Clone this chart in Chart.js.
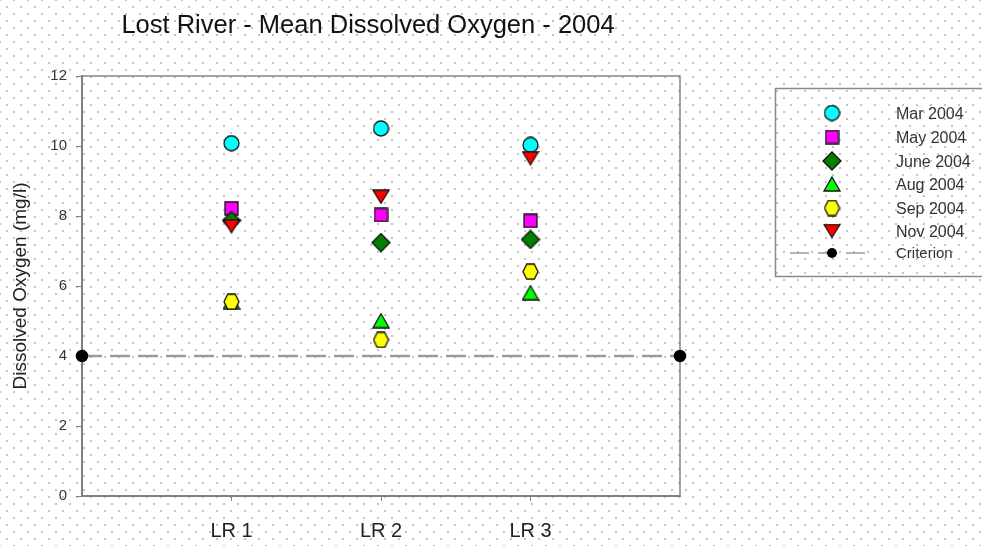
<!DOCTYPE html>
<html>
<head>
<meta charset="utf-8">
<script src="https://cdn.jsdelivr.net/npm/chart.js@4/dist/chart.umd.min.js"></script>
<style>
html, body { margin: 0; padding: 0; background: #fff; }
body {
    background-image: radial-gradient(circle, #c2c2c2 0.8px, transparent 1.4px),
                      radial-gradient(circle, #c2c2c2 0.8px, transparent 1.4px);
    background-size: 14px 14px;
    background-position: 0 0, 7px 7px;
}
#wrap { width: 982px; height: 546px; }
</style>
</head>
<body>
<div id="wrap"><canvas id="doChart" width="982" height="546"></canvas></div>
<script>
// chart values
var sites = ['LR 1', 'LR 2', 'LR 3'];
var sitePos = [1, 2, 3];
var months = ['Mar 2004', 'May 2004', 'June 2004', 'Aug 2004', 'Sep 2004', 'Nov 2004'];
var mar2004 = [10.08, 10.50, 10.03];
var may2004 = [8.22, 8.03, 7.86];
var jun2004 = [7.87, 7.24, 7.33];
var aug2004 = [5.55, 5.01, 5.81];
var sep2004 = [5.55, 4.46, 6.41];
var nov2004 = [7.71, 8.55, 9.65];
var criterion = 4;
var yTicks = [0, 2, 4, 6, 8, 10, 12];

// symbols drawn on small canvases so chart and legend use the same shapes
function makeSymbol(kind, fill, w, h) {
    var c = document.createElement('canvas');
    c.width = w;
    c.height = h;
    var g = c.getContext('2d');
    var cx = w / 2, cy = h / 2;
    g.beginPath();
    if (kind == 'circle') {
        g.arc(cx, cy, w / 2 - 1, 0, Math.PI * 2);
    } else if (kind == 'square') {
        g.rect(1, 1, w - 2, h - 2);
    } else if (kind == 'diamond') {
        g.moveTo(cx, 1); g.lineTo(w - 1, cy); g.lineTo(cx, h - 1); g.lineTo(1, cy);
        g.closePath();
    } else if (kind == 'up') {
        g.moveTo(cx, 1); g.lineTo(w - 1, h - 1); g.lineTo(1, h - 1);
        g.closePath();
    } else if (kind == 'down') {
        g.moveTo(1, 1); g.lineTo(w - 1, 1); g.lineTo(cx, h - 1);
        g.closePath();
    } else if (kind == 'hexagon') {
        var rx = w / 2 - 1, ry = h / 2 - 1;
        for (var i = 0; i < 6; i++) {
            var a = i * Math.PI / 3;
            var px = cx + rx * Math.cos(a), py = cy + ry * Math.sin(a) / Math.sin(Math.PI / 3);
            if (i == 0) g.moveTo(px, py); else g.lineTo(px, py);
        }
        g.closePath();
    }
    g.fillStyle = fill;
    g.fill();
    g.lineWidth = 1.3;
    g.strokeStyle = '#111';
    g.stroke();
    return c;
}

var symbols = [
    makeSymbol('circle', '#00ffff', 17, 17),
    makeSymbol('square', '#ff00ff', 15, 15),
    makeSymbol('diamond', '#008000', 20, 20),
    makeSymbol('up', '#00ff00', 18, 16),
    makeSymbol('hexagon', '#ffff00', 17, 17),
    makeSymbol('down', '#ff0000', 18, 15)
];
var series = [mar2004, may2004, jun2004, aug2004, sep2004, nov2004];

function toPoints(values) {
    var pts = [];
    for (var i = 0; i <= values.length - 1; i++) {
        pts.push({ x: sitePos[i], y: values[i] });
    }
    return pts;
}

var datasets = [];
for (var i = 0; i < months.length; i++) {
    datasets.push({
        type: 'scatter',
        label: months[i],
        data: toPoints(series[i]),
        pointStyle: symbols[i],
        pointRadius: 9,
        order: 6 - i
    });
}
datasets.push({
    type: 'line',
    label: 'Criterion',
    data: [{ x: 0, y: criterion }, { x: 4, y: criterion }],
    borderColor: '#9a9a9a',
    borderWidth: 2.5,
    borderDash: [20, 8],
    pointStyle: 'circle',
    pointRadius: 5,
    pointBackgroundColor: '#000',
    pointBorderColor: '#000',
    clip: 10,
    order: 10
});

var frameAndLegend = {
    id: 'frameAndLegend',
    beforeDatasetsDraw: function (chart) {
        var a = chart.chartArea, ctx = chart.ctx;
        ctx.save();
        ctx.strokeStyle = '#858585';
        ctx.lineWidth = 1.5;
        ctx.beginPath();
        ctx.moveTo(a.left, a.top);
        ctx.lineTo(a.right, a.top);
        ctx.lineTo(a.right, a.bottom);
        ctx.stroke();
        ctx.restore();
    },
    afterDraw: function (chart) {
        var ctx = chart.ctx;
        ctx.save();
        // title
        ctx.fillStyle = '#111';
        ctx.font = '25.5px "Liberation Sans", Arial, sans-serif';
        ctx.textAlign = 'center';
        ctx.textBaseline = 'alphabetic';
        ctx.fillText('Lost River - Mean Dissolved Oxygen - 2004', 368, 33);

        // legend box
        ctx.strokeStyle = '#8a8a8a';
        ctx.lineWidth = 1.5;
        ctx.strokeRect(775.5, 88.5, 230, 188);

        var rowY = [113, 137, 161, 184, 208, 231];
        ctx.font = '16px "Liberation Sans", Arial, sans-serif';
        ctx.textAlign = 'left';
        for (var i = 0; i < months.length; i++) {
            var s = symbols[i];
            ctx.drawImage(s, 832 - s.width / 2, rowY[i] - s.height / 2);
            ctx.fillStyle = '#333';
            ctx.fillText(months[i], 896, rowY[i] + 6);
        }
        // criterion entry
        var cy = 253;
        ctx.strokeStyle = '#9a9a9a';
        ctx.lineWidth = 1.5;
        ctx.setLineDash([19, 9]);
        ctx.beginPath();
        ctx.moveTo(790, cy);
        ctx.lineTo(868, cy);
        ctx.stroke();
        ctx.setLineDash([]);
        ctx.fillStyle = '#000';
        ctx.beginPath();
        ctx.arc(832, cy, 5, 0, Math.PI * 2);
        ctx.fill();
        ctx.fillStyle = '#333';
        ctx.font = '15px "Liberation Sans", Arial, sans-serif';
        ctx.fillText('Criterion', 896, cy + 5);
        ctx.restore();
    }
};

new Chart(document.getElementById('doChart'), {
    type: 'scatter',
    data: { datasets: datasets },
    plugins: [frameAndLegend],
    options: {
        responsive: false,
        animation: false,
        layout: { padding: { left: 0, right: 302, top: 76, bottom: 0 } },
        plugins: {
            legend: { display: false },
            title: { display: false },
            tooltip: { enabled: false }
        },
        scales: {
            x: {
                type: 'linear',
                min: 0,
                max: 4,
                afterBuildTicks: function (scale) {
                    scale.ticks = sitePos.map(function (v) { return { value: v }; });
                },
                afterFit: function (scale) { scale.height = 50; },
                ticks: {
                    autoSkip: false,
                    maxRotation: 0,
                    padding: 18,
                    color: '#222',
                    font: { family: '"Liberation Sans", Arial, sans-serif', size: 20 },
                    callback: function (v) { return sites[sitePos.indexOf(v)]; }
                },
                grid: { drawOnChartArea: false, tickLength: 5, color: '#808080', lineWidth: 1 },
                border: { color: '#808080', width: 2 }
            },
            y: {
                min: 0,
                max: 12,
                afterBuildTicks: function (scale) {
                    scale.ticks = yTicks.map(function (v) { return { value: v }; });
                },
                afterFit: function (scale) { scale.width = 82; },
                ticks: {
                    padding: 9,
                    color: '#333',
                    font: { family: '"Liberation Sans", Arial, sans-serif', size: 15 }
                },
                grid: { drawOnChartArea: false, tickLength: 6, color: '#808080', lineWidth: 1 },
                border: { color: '#808080', width: 2 },
                title: {
                    display: true,
                    text: 'Dissolved Oxygen (mg/l)',
                    color: '#222',
                    padding: { top: 9, bottom: 0 },
                    font: { family: '"Liberation Sans", Arial, sans-serif', size: 19 }
                }
            }
        }
    }
});
</script>
</body>
</html>
